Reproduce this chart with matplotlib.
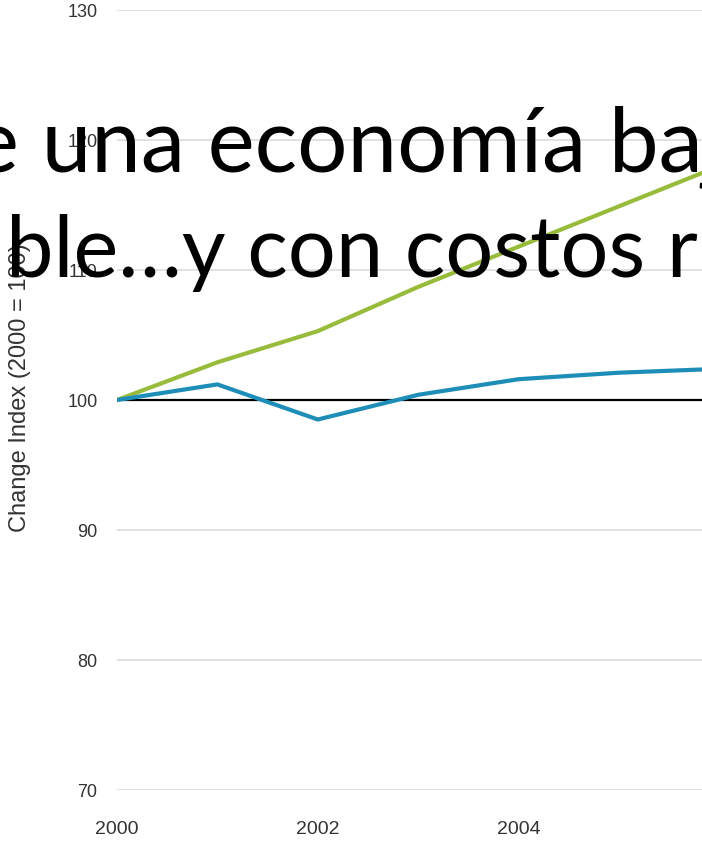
import matplotlib
matplotlib.use("Agg")
import matplotlib.pyplot as plt
from matplotlib import font_manager

years = [2000, 2001, 2002, 2003, 2004, 2005, 2006]
series_green = [100, 102.9, 105.3, 108.7, 111.8, 114.9, 118.0]
series_blue = [100, 101.2, 98.5, 100.4, 101.6, 102.1, 102.4]
baseline_value = 100
y_ticks = [70, 80, 90, 100, 110, 120, 130]
x_ticks = [2000, 2002, 2004]
y_label = "Change Index (2000 = 100)"
title_line1 = "e una economía baj"
title_line2 = "ble…y con costos r"

names = {f.name for f in font_manager.fontManager.ttflist}
narrow = "Liberation Sans Narrow" if "Liberation Sans Narrow" in names else "Liberation Sans"
title_font = "Lato" if "Lato" in names else "DejaVu Sans"

W, H = 702, 841
fig = plt.figure(figsize=(W / 100, H / 100), dpi=100)
left = 117 / W
bottom = 1 - 790 / H
top = 1 - 10 / H
ax = fig.add_axes([left, bottom, 1.0 - left, top - bottom])

ax.plot(years, series_green, color="#98bb3c", lw=3.0, solid_capstyle="round", zorder=3)
ax.axhline(baseline_value, color="black", lw=1.6, zorder=2)
ax.plot(years, series_blue, color="#1e8eb9", lw=3.0, solid_capstyle="round", zorder=4)

ax.set_yticks(y_ticks)
ax.set_xticks(x_ticks)
ax.set_yticklabels([str(v) for v in y_ticks], fontfamily=narrow, fontsize=13, color="#333333")
ax.set_xticklabels([str(v) for v in x_ticks], fontfamily=narrow, fontsize=14, color="#333333")
ax.set_ylim(70, 130)
ax.set_xlim(2000, 2000 + (W - 117) / 100.4)
ax.tick_params(axis="both", length=0)
ax.tick_params(axis="y", pad=14)
ax.tick_params(axis="x", pad=22)
ax.grid(axis="y", color="#dcdcdc", lw=1.2)
ax.grid(axis="x", visible=False)
for s in ax.spines.values():
    s.set_visible(False)
ax.set_axisbelow(True)

fig.text(20 / W, 1 - 388 / H, y_label, rotation=90, ha="center", va="center",
         fontfamily=narrow, fontsize=17, color="#333333")

fig.text(-28 / W, 1 - 172 / H, title_line1, ha="left", va="baseline",
         fontfamily=title_font, fontsize=64, color="black", zorder=10)
fig.text(6 / W, 1 - 277 / H, title_line2, ha="left", va="baseline",
         fontfamily=title_font, fontsize=61, color="black", zorder=10)

fig.savefig("out.png", dpi=100)
